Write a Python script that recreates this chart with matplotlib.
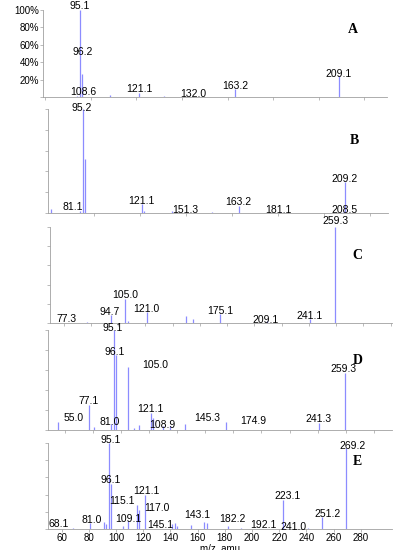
import matplotlib
matplotlib.use("Agg")
import matplotlib.pyplot as plt

plt.rcParams['font.family'] = ['Liberation Sans', 'DejaVu Sans']

# ---- data: peaks (m/z, relative intensity %) ----
A_mz = [94.0, 95.1, 96.2, 108.6, 121.1, 132.0, 163.2, 209.1]
A_int = [1, 100, 27, 2, 5, 1, 9, 24]
B_mz = [81.1, 94.0, 95.2, 96.2, 121.1, 122.0, 134.0, 151.3, 163.2, 181.1, 208.5, 209.2]
B_int = [4, 2, 100, 52, 9, 2, 2, 1, 7, 0.5, 1, 30]
C_mz = [77.3, 94.7, 105.0, 107.0, 121.0, 150.0, 155.0, 175.1, 209.1, 241.1, 259.3]
C_int = [1, 8, 25, 2, 11, 7, 4, 9, 2, 4, 100]
D_mz = [55.0, 77.1, 81.0, 93.0, 95.1, 96.1, 105.0, 108.9, 113.0, 121.1, 123.0, 130.0, 135.0, 145.3, 174.9, 241.3, 259.3]
D_int = [8, 25, 3, 6, 100, 75, 63, 2, 5, 17, 12, 4, 4, 6, 8, 7, 57]
E_mz = [68.1, 81.0, 91.0, 93.0, 95.1, 96.1, 105.0, 109.1, 115.1, 117.0, 121.1, 141.0, 143.1, 145.1, 155.0, 165.0, 167.0, 182.2, 192.1, 223.1, 241.0, 251.2, 269.2]
E_int = [1, 7, 8, 6, 100, 52, 3, 9, 28, 22, 40, 6, 7, 3, 5, 8, 7, 4, 1, 34, 1, 14, 94]

# ---- peak labels: text, label x (m/z), label y (%) ----
A_lab = [("95.1", 95.1, 105), ("96.2", 96.6, 52), ("108.6", 96.6, 6), ("121.1", 121.5, 9),
         ("132.0", 144.9, 3), ("163.2", 163.4, 13), ("209.1", 208.8, 27)]
B_lab = [("95.2", 94.6, 101), ("81.1", 90.7, 6), ("121.1", 120.8, 12), ("151.3", 139.7, 3),
         ("163.2", 162.9, 11), ("181.1", 180.4, 3), ("209.2", 209.0, 33), ("208.5", 209.0, 3)]
C_lab = [("259.3", 259.3, 106), ("105.0", 105.0, 29), ("94.7", 93.9, 11), ("121.0", 120.9, 15),
         ("77.3", 62.1, 4), ("175.1", 174.8, 12), ("209.1", 207.9, 3), ("241.1", 240.2, 7)]
D_lab = [("95.1", 94.2, 102), ("96.1", 95.3, 78), ("105.0", 124.4, 65), ("259.3", 258.7, 61),
         ("77.1", 76.7, 29), ("55.0", 66.0, 12), ("81.0", 92.2, 8), ("121.1", 120.8, 21),
         ("108.9", 129.2, 5), ("145.3", 161.3, 12), ("174.9", 194.4, 9), ("241.3", 240.8, 11)]
E_lab = [("95.1", 96.4, 104), ("269.2", 273.8, 96), ("96.1", 96.4, 57), ("121.1", 122.7, 44),
         ("115.1", 104.3, 32), ("117.0", 130.1, 24), ("223.1", 226.4, 38), ("251.2", 255.4, 17),
         ("68.1", 57.6, 6), ("81.0", 82.2, 11), ("109.1", 109.2, 12), ("145.1", 132.5, 5),
         ("143.1", 159.6, 16), ("182.2", 185.4, 12), ("192.1", 208.7, 5), ("241.0", 230.8, 2)]

x_ticks = [60, 80, 100, 120, 140, 160, 180, 200, 220, 240, 260, 280]
A_yticklabels = ["", "20%", "40%", "60%", "80%", "100%"]

# ---- layout (pixels) ----
W, H = 400, 550
panels = [
    ("A", A_mz, A_int, A_lab, (43, 387, 10, 97), (79, 230)),
    ("B", B_mz, B_int, B_lab, (48, 388, 109, 213), (80, 228)),
    ("C", C_mz, C_int, C_lab, (50, 392, 227, 323), (50, 301)),
    ("D", D_mz, D_int, D_lab, (48, 392, 330, 430), (48, 293)),
    ("E", E_mz, E_int, E_lab, (48, 392, 443, 529), (50, 303)),
]
letter_y = {"A": 0.78, "B": 0.7, "C": 0.7, "D": 0.7, "E": 0.78}

fig = plt.figure(figsize=(W / 100, H / 100), dpi=100)
bar_col = "#8c8cff"
for name, mz, inten, labs, (x0, x1, y0, y1), xl in panels:
    ax = fig.add_axes([x0 / W, 1 - y1 / H, (x1 - x0) / W, (y1 - y0) / H])
    ax.vlines(mz, 0, inten, color=bar_col, lw=0.9)
    ax.set_xlim(*xl)
    ax.set_ylim(0, 100)
    for s in ("top", "right"):
        ax.spines[s].set_visible(False)
    for s in ("left", "bottom"):
        ax.spines[s].set_color("#a0a0a0")
        ax.spines[s].set_linewidth(0.6)
    ax.set_yticks([0, 20, 40, 60, 80, 100])
    ax.tick_params(axis="both", length=2, width=0.5, color="#a0a0a0", labelsize=7, pad=1)
    if name == "A":
        ax.set_yticklabels(A_yticklabels)
    else:
        ax.set_yticklabels([])
    if name == "E":
        ax.set_xticks(x_ticks)
        ax.set_xlabel("m/z, amu", fontsize=7, labelpad=0)
    else:
        ax.set_xticks(range(int(xl[0] // 20 * 20 + 20), int(xl[1]), 20))
        ax.set_xticklabels([])
    for txt, lx, ly in labs:
        ax.text(lx, ly, txt, fontsize=7.5, ha="center", va="center", clip_on=False)
    ax.text(0.9, letter_y[name], name, transform=ax.transAxes, fontsize=10,
            fontweight="bold", family="Liberation Serif", ha="center", va="center")

fig.savefig("out.png", dpi=100)
